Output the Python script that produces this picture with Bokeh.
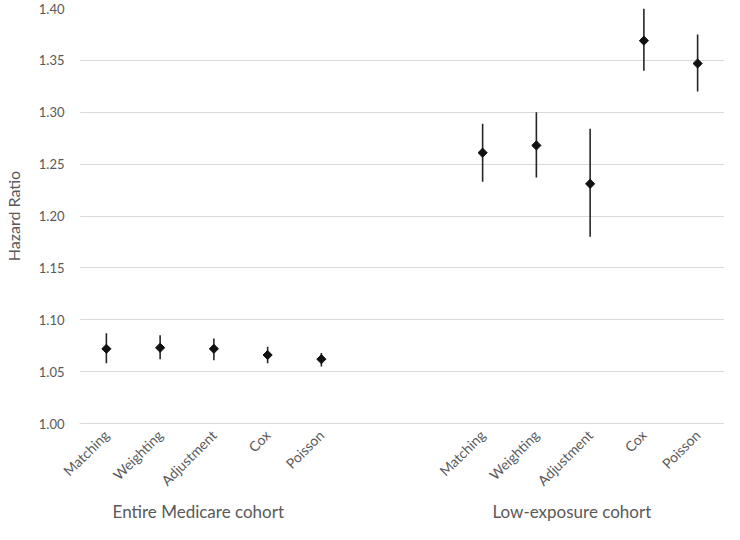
import math
from bokeh.plotting import figure
from bokeh.models import (Range1d, ColumnDataSource, FixedTicker, PrintfTickFormatter,
                          LinearAxis)
from bokeh.embed import file_html
from bokeh.resources import INLINE

# ---- data ----
groups = ["Entire Medicare cohort", "Low-exposure cohort"]
methods = ["Matching", "Weighting", "Adjustment", "Cox", "Poisson"]
hr_entire = [1.072, 1.073, 1.072, 1.066, 1.062]
lo_entire = [1.058, 1.062, 1.061, 1.058, 1.055]
hi_entire = [1.087, 1.085, 1.082, 1.074, 1.068]
hr_low = [1.261, 1.268, 1.231, 1.369, 1.347]
lo_low = [1.233, 1.237, 1.180, 1.340, 1.320]
hi_low = [1.289, 1.300, 1.284, 1.400, 1.375]
y_ticks = [1.00, 1.05, 1.10, 1.15, 1.20, 1.25, 1.30, 1.35, 1.40]

# category slots: each cohort's methods, then two empty slots as a gap (as in the chart)
GAP = 2
slot = [gi * (len(methods) + GAP) + mi
        for gi in range(len(groups)) for mi in range(len(methods))]
labels = [m for g in groups for m in methods]

src = ColumnDataSource(dict(
    x=slot,
    hr=hr_entire + hr_low,
    lo=lo_entire + lo_low,
    hi=hi_entire + hi_low,
))

FONT = "Lato"
TXT = "#595959"
GRID = "#d9d9d9"

p = figure(
    x_range=Range1d(slot[0] - 0.5, slot[-1] + 0.5),
    y_range=Range1d(1.0, 1.4),
    width=724, height=524,
    output_backend="svg", toolbar_location=None,
    min_border_top=8, min_border_right=0, min_border_left=0,
    min_border_bottom=0,
)

p.segment(x0="x", y0="lo", x1="x", y1="hi", source=src,
          line_color="#262626", line_width=1.6)
p.scatter(x="x", y="hr", source=src, marker="square", angle=math.pi / 4,
          size=6.5, fill_color="#111111", line_color="#111111")

p.outline_line_color = None
p.xgrid.grid_line_color = None
p.ygrid.grid_line_color = GRID
p.ygrid.grid_line_width = 1

# x axis: method names
xa = p.xaxis[0]
xa.ticker = FixedTicker(ticks=slot)
xa.major_label_overrides = {s: t for s, t in zip(slot, labels)}
xa.major_label_orientation = math.pi / 4
xa.major_tick_line_color = None
xa.major_tick_out = 0
xa.major_tick_in = 0
xa.minor_tick_line_color = None
xa.minor_tick_out = 0
xa.axis_line_color = GRID
xa.major_label_text_font = FONT
xa.major_label_text_font_size = "14px"
xa.major_label_text_color = TXT
xa.major_label_standoff = 9

# second axis below: cohort names
group_label_x = [1.71, 8.66]
ga = LinearAxis(ticker=FixedTicker(ticks=group_label_x),
                major_label_overrides={gx: g for gx, g in zip(group_label_x, groups)})
ga.axis_line_color = None
ga.major_tick_line_color = None
ga.major_tick_out = 0
ga.major_tick_in = 0
ga.minor_tick_line_color = None
ga.minor_tick_out = 0
ga.major_label_text_font = FONT
ga.major_label_text_font_size = "17px"
ga.major_label_text_color = TXT
ga.major_label_standoff = 3
p.add_layout(ga, "below")

# y axis
ya = p.yaxis[0]
ya.ticker = FixedTicker(ticks=y_ticks)
ya.formatter = PrintfTickFormatter(format="%.2f")
ya.axis_line_color = None
ya.major_tick_line_color = None
ya.major_tick_out = 0
ya.major_tick_in = 0
ya.minor_tick_line_color = None
ya.minor_tick_out = 0
ya.major_label_text_font = FONT
ya.major_label_text_font_size = "13px"
ya.major_label_text_color = TXT
ya.major_label_standoff = 15
ya.axis_label = "Hazard Ratio"
ya.axis_label_text_font = FONT
ya.axis_label_text_font_size = "16px"
ya.axis_label_text_font_style = "normal"
ya.axis_label_text_color = TXT
ya.axis_label_standoff = 13

open("out.html", "w").write(file_html(p, INLINE))
